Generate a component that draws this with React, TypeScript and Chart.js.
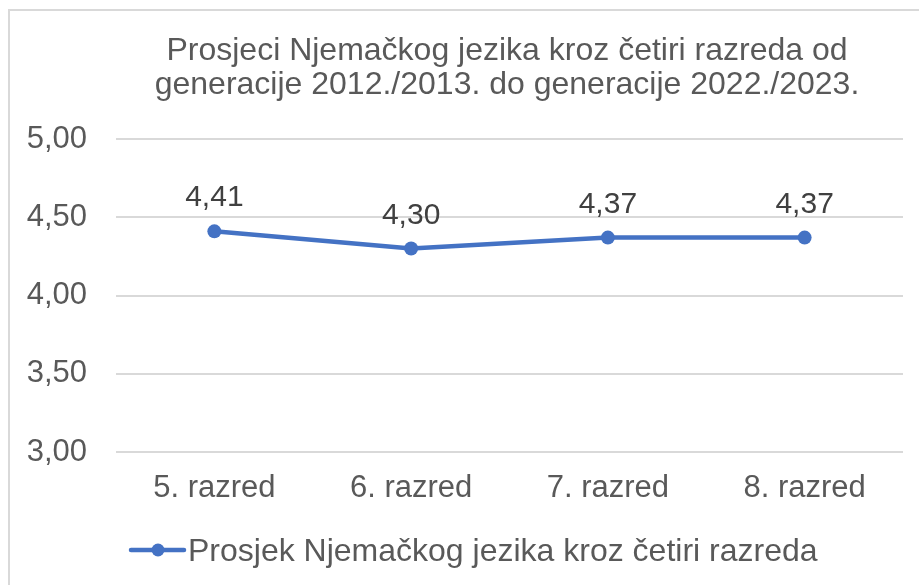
import React, { useEffect, useRef } from "react";
import { Chart, registerables } from "chart.js";

Chart.register(...registerables);

const categories = ["5. razred", "6. razred", "7. razred", "8. razred"];
const values = [4.41, 4.3, 4.37, 4.37];
const seriesLabel = "Prosjek Njemačkog jezika kroz četiri razreda";
const titleLines = [
  "Prosjeci Njemačkog jezika kroz četiri razreda od",
  "generacije 2012./2013. do generacije 2022./2023.",
];
const yMin = 3;
const yMax = 5;
const yStep = 0.5;

const FONT = "'Liberation Sans', Arial, sans-serif";
const LINE_COLOR = "#4472C4";
const TEXT_COLOR = "#595959";

const fmt = (v: number) => v.toFixed(2).replace(".", ",");

const framePlugin = {
  id: "frame",
  beforeDraw(chart: any) {
    const ctx = chart.ctx;
    ctx.save();
    ctx.fillStyle = "#ffffff";
    ctx.fillRect(0, 0, chart.width, chart.height);
    ctx.strokeStyle = "#d9d9d9";
    ctx.lineWidth = 2;
    ctx.beginPath();
    ctx.moveTo(9, chart.height);
    ctx.lineTo(9, 10);
    ctx.lineTo(chart.width, 10);
    ctx.stroke();
    ctx.restore();
  },
};

const titlePlugin = {
  id: "customTitle",
  afterDraw(chart: any) {
    const ctx = chart.ctx;
    ctx.save();
    ctx.font = `32px ${FONT}`;
    ctx.fillStyle = TEXT_COLOR;
    ctx.textAlign = "center";
    ctx.textBaseline = "alphabetic";
    const baselines = [60, 94];
    titleLines.forEach((t, i) => ctx.fillText(t, 507, baselines[i]));
    ctx.restore();
  },
};

const dataLabelPlugin = {
  id: "dataLabels",
  afterDatasetsDraw(chart: any) {
    const ctx = chart.ctx;
    const meta = chart.getDatasetMeta(0);
    ctx.save();
    ctx.font = `30px ${FONT}`;
    ctx.fillStyle = "#404040";
    ctx.textAlign = "center";
    ctx.textBaseline = "alphabetic";
    meta.data.forEach((pt: any, i: number) => {
      ctx.fillText(fmt(chart.data.datasets[0].data[i]), pt.x, pt.y - 25);
    });
    ctx.restore();
  },
};

const legendPlugin = {
  id: "customLegend",
  afterDraw(chart: any) {
    const ctx = chart.ctx;
    const y = 550;
    ctx.save();
    ctx.strokeStyle = LINE_COLOR;
    ctx.lineWidth = 4.5;
    ctx.lineCap = "round";
    ctx.beginPath();
    ctx.moveTo(131, y);
    ctx.lineTo(184, y);
    ctx.stroke();
    ctx.fillStyle = LINE_COLOR;
    ctx.beginPath();
    ctx.arc(158, y, 6.5, 0, Math.PI * 2);
    ctx.fill();
    ctx.font = `32px ${FONT}`;
    ctx.fillStyle = TEXT_COLOR;
    ctx.textAlign = "left";
    ctx.textBaseline = "alphabetic";
    ctx.fillText(chart.data.datasets[0].label, 188, 561);
    ctx.restore();
  },
};

export default function App() {
  const ref = useRef<HTMLCanvasElement | null>(null);

  useEffect(() => {
    if (!ref.current) return;
    const chart = new Chart(ref.current, {
      type: "line",
      data: {
        labels: categories,
        datasets: [
          {
            label: seriesLabel,
            data: values,
            borderColor: LINE_COLOR,
            backgroundColor: LINE_COLOR,
            borderWidth: 4.5,
            borderCapStyle: "round",
            borderJoinStyle: "round",
            tension: 0,
            pointRadius: 7,
            pointHoverRadius: 7,
            pointBackgroundColor: LINE_COLOR,
            pointBorderWidth: 0,
          },
        ],
      },
      options: {
        responsive: false,
        animation: false,
        devicePixelRatio: 1,
        layout: { padding: { top: 139, right: 16, bottom: 0, left: 0 } },
        plugins: {
          legend: { display: false },
          title: { display: false },
          tooltip: { enabled: false },
        },
        scales: {
          x: {
            type: "category",
            offset: true,
            grid: { display: false, drawTicks: false },
            border: { display: false },
            ticks: {
              font: { family: FONT, size: 31 },
              color: TEXT_COLOR,
              padding: 18,
              maxRotation: 0,
            },
            afterFit: (scale: any) => {
              scale.height = 133;
            },
          },
          y: {
            min: yMin,
            max: yMax,
            grid: { color: "#d9d9d9", lineWidth: 2, drawTicks: false },
            border: { display: false },
            ticks: {
              stepSize: yStep,
              font: { family: FONT, size: 31 },
              color: TEXT_COLOR,
              padding: 29,
              callback: (v: any) => fmt(Number(v)),
            },
            afterFit: (scale: any) => {
              scale.width = 116;
            },
          },
        },
      },
      plugins: [framePlugin, titlePlugin, dataLabelPlugin, legendPlugin],
    });
    return () => chart.destroy();
  }, []);

  return (
    <canvas
      ref={ref}
      width={919}
      height={585}
      style={{ position: "fixed", left: 0, top: 0, width: 919, height: 585 }}
    />
  );
}
